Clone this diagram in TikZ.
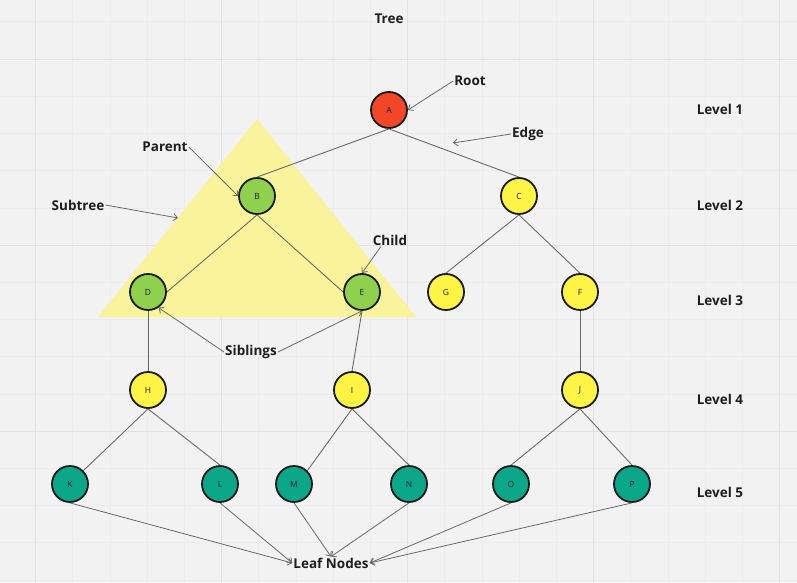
\documentclass[tikz,border=0pt]{standalone}
\usepackage{fontspec}
\setmainfont{Open Sans}
\usetikzlibrary{arrows.meta}
\definecolor{bgcol}{RGB}{242,242,242}
\definecolor{minorgrid}{RGB}{236,236,236}
\definecolor{majorgrid}{RGB}{226,226,226}
\definecolor{rootred}{RGB}{242,71,38}
\definecolor{leafgreen}{RGB}{143,209,79}
\definecolor{sunyellow}{RGB}{254,244,69}
\definecolor{leafteal}{RGB}{12,167,137}
\definecolor{subtreefill}{RGB}{249,243,155}
\definecolor{nodeline}{RGB}{26,26,26}
\definecolor{nodetext}{RGB}{30,30,60}
\definecolor{labeltext}{RGB}{30,30,30}
\definecolor{linegray}{RGB}{105,105,105}

\begin{document}
\begin{tikzpicture}
      [x=1pt, y=-1pt,
      vert/.style={circle, minimum size=36pt, inner sep=0pt, draw=nodeline, line width=1.8pt, text=nodetext, font=\fontsize{8.5}{9}\selectfont},
      lbl/.style={inner sep=1pt, text=labeltext, font=\bfseries\fontsize{13.5}{15}\selectfont},
      branch/.style={draw=linegray, line width=0.9pt},
      ptr/.style={draw=linegray, line width=0.8pt, -{Straight Barb[length=4pt,width=7pt]}},
      ]
      % canvas and grid
      \fill[bgcol] (0,0) rectangle (797,583);
      \useasboundingbox (0,0) rectangle (797,583);
      \foreach \i in {0,...,22} {\draw[minorgrid, line width=0.6pt] ({-1.7+37.2*\i},0) -- ++(0,583);}
      \foreach \i in {0,...,15} {\draw[minorgrid, line width=0.6pt] (0,{21.8+37.2*\i}) -- ++(797,0);}
      \foreach \i in {0,...,4} {\draw[majorgrid, line width=0.8pt] ({35.5+186*\i},0) -- ++(0,583);}
      \foreach \i in {0,...,2} {\draw[majorgrid, line width=0.8pt] (0,{59+186*\i}) -- ++(797,0);}

      % subtree shading
      \fill[subtreefill] (257,119) -- (416,317) -- (98,317) -- cycle;

      % vertices
      \node[vert, fill=rootred] (A) at (389,110) {A};
      \node[vert, fill=leafgreen] (B) at (257,196) {B};
      \node[vert, fill=sunyellow] (C) at (519,196) {C};
      \node[vert, fill=leafgreen] (D) at (148,292) {D};
      \node[vert, fill=leafgreen] (E) at (362,292) {E};
      \node[vert, fill=sunyellow] (G) at (446,292) {G};
      \node[vert, fill=sunyellow] (F) at (580,292) {F};
      \node[vert, fill=sunyellow] (H) at (148,390) {H};
      \node[vert, fill=sunyellow] (I) at (352,390) {I};
      \node[vert, fill=sunyellow] (J) at (580,390) {J};
      \node[vert, fill=leafteal] (K) at (70,484) {K};
      \node[vert, fill=leafteal] (L) at (220,484) {L};
      \node[vert, fill=leafteal] (M) at (294,484) {M};
      \node[vert, fill=leafteal] (N) at (409,484) {N};
      \node[vert, fill=leafteal] (O) at (511,484) {O};
      \node[vert, fill=leafteal] (P) at (632,484) {P};

      % branches
      \draw[branch] (A.south) -- (B.north);
      \draw[branch] (A.south) -- (C.north);
      \draw[branch] (B.south) -- (D.east);
      \draw[branch] (B.south) -- (E.west);
      \draw[branch] (C.south) -- (G.north);
      \draw[branch] (C.south) -- (F.north);
      \draw[branch] (D.south) -- (H.north);
      \draw[branch] (E.south) -- (I.north);
      \draw[branch] (F.south) -- (J.north);
      \draw[branch] (H.south) -- (K.45);
      \draw[branch] (H.south) -- (L.north);
      \draw[branch] (I.south) -- (M.45);
      \draw[branch] (I.south) -- (N.north);
      \draw[branch] (J.south) -- (O.north);
      \draw[branch] (J.south) -- (P.north);

      % labels
      \node[lbl] (title) at (389,19) {Tree};
      \node[lbl] (root) at (470,81) {Root};
      \node[lbl] (edgelbl) at (528,134) {Edge};
      \node[lbl] (parent) at (165,147) {Parent};
      \node[lbl] (subtree) at (78,205) {Subtree};
      \node[lbl] (child) at (390,240) {Child};
      \node[lbl] (siblings) at (251,352) {Siblings};
      \node[lbl] (leaves) at (331,563) {Leaf Nodes};
      \node[lbl] (lv1) at (720,109) {Level 1};
      \node[lbl] (lv2) at (720,205) {Level 2};
      \node[lbl] (lv3) at (720,300) {Level 3};
      \node[lbl] (lv4) at (720,399) {Level 4};
      \node[lbl] (lv5) at (720,492) {Level 5};

      \coordinate (edgetip) at (453,143);
      \coordinate (subtreetip) at (178,218);

      % pointers
      \draw[ptr] (root.west) -- (A.east);
      \draw[ptr] (edgelbl.west) -- (edgetip);
      \draw[ptr] (parent.east) -- (B.west);
      \draw[ptr] (subtree.east) -- (subtreetip);
      \draw[ptr] ([xshift=-9pt]child.south) -- (E.north);
      \draw[ptr] (siblings.west) -- (D.304);
      \draw[ptr] (siblings.east) -- (E.south);
      \draw[ptr] (K.south) -- (leaves.west);
      \draw[ptr] (L.south) -- (leaves.west);
      \draw[ptr] (M.south) -- (leaves.north);
      \draw[ptr] (N.south) -- (leaves.north);
      \draw[ptr] (O.south) -- (leaves.east);
      \draw[ptr] (P.south) -- (leaves.east);
\end{tikzpicture}
\end{document}
